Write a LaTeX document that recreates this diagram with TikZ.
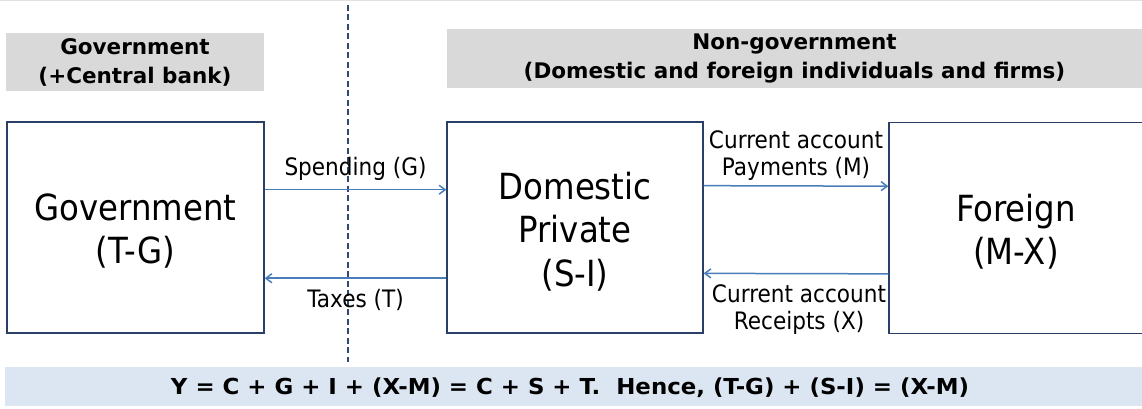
\documentclass[tikz,border=0pt]{standalone}
\usepackage{fontspec}
\setmainfont{DejaVu Sans}
\newfontfamily\tah[FakeStretch=0.9]{DejaVu Sans}
\newfontfamily\tahb{DejaVu Sans Bold}
\newfontfamily\eqf[FakeStretch=1.04]{DejaVu Sans Bold}
\usetikzlibrary{arrows.meta,calc}
\definecolor{boxline}{HTML}{2A3F66}
\definecolor{flowc}{HTML}{4A7EBB}
\definecolor{hdrfill}{HTML}{D9D9D9}
\definecolor{eqfill}{HTML}{DCE6F2}
\definecolor{dashc}{HTML}{2E4A70}
\tikzset{
  hdr/.style={fill=hdrfill, inner sep=0pt, align=center, font=\tahb\fontsize{21.5}{29}\selectfont},
  sector/.style={draw=boxline, line width=1.3pt, fill=white, inner sep=0pt, minimum height=211pt},
  bigtxt/.style={inner sep=0pt, align=center, font=\tah\fontsize{36}{43.5}\selectfont},
  flow/.style={draw=flowc, line width=1.5pt, -{Straight Barb[length=6pt,width=9pt]}},
  lbl/.style={inner sep=0pt, align=center, font=\tah\fontsize{24}{27.5}\selectfont},
}
\begin{document}
\begin{tikzpicture}[x=1pt,y=-1pt]
\useasboundingbox (0,0) rectangle (1142,409);
\clip (0,0) rectangle (1142,409);
\fill[white] (0,0) rectangle (1142,409);
\draw[color=black!12, line width=1.5pt] (0,0.75) -- (1142,0.75);
% headers
\node[hdr, minimum width=258pt, minimum height=58pt] (hg) at (135,62) {Government\\(+Central bank)};
\node[hdr, minimum width=695pt, minimum height=59pt] (hn) at (794.5,58.5) {Non-government\\(Domestic and foreign individuals and firms)};
% dashed divider
\draw[dashc, line width=2pt, dash pattern=on 6pt off 3.5pt] (348,5) -- (348,362);
% sectors
\node[sector, minimum width=257pt] (gov) at (135.5,227.5) {};
\node[sector, minimum width=256pt] (dom) at (575,227.5) {};
\node[sector, minimum width=254pt] (for) at (1016,228) {};
\node[bigtxt] (govt) at ($(gov.center)+(0,3.5)$) {Government\\(T-G)};
\node[bigtxt] (domt) at ($(dom.center)+(0,4)$) {Domestic\\Private\\(S-I)};
\node[bigtxt] (fort) at ($(for.center)+(0,3.5)$) {Foreign\\(M-X)};
% flows
\draw[flow] ($(gov.north east)!0.322!(gov.south east)$) -- ($(dom.north west)!0.322!(dom.south west)$) coordinate[pos=0.5] (sp);
\draw[flow] ($(dom.north west)!0.739!(dom.south west)$) -- ($(gov.north east)!0.739!(gov.south east)$) coordinate[pos=0.5] (tx);
\draw[flow] ($(dom.north east)!0.303!(dom.south east)$) -- ($(for.north west)!0.303!(for.south west)$) coordinate[pos=0.5] (pm);
\draw[flow] ($(for.north west)!0.716!(for.south west)$) -- ($(dom.north east)!0.716!(dom.south east)$) coordinate[pos=0.5] (rc);
\node[lbl] (spl) at ($(sp)+(0,-21)$) {Spending (G)};
\node[lbl] (txl) at ($(tx)+(0,22)$) {Taxes (T)};
\node[lbl] (pml) at ($(pm)+(0,-30.5)$) {Current account\\Payments (M)};
\node[lbl] (rcl) at ($(rc)+(3,36)$) {Current account\\Receipts (X)};
% equation band
\node[fill=eqfill, minimum width=1137pt, minimum height=39pt, inner sep=0pt] (eqb) at (573.5,386.5) {};
\node[inner sep=0pt, font=\eqf\fontsize{22}{25}\selectfont] (eq) at (570,388) {Y = C + G + I + (X-M) = C + S + T.\ \ Hence, (T-G) + (S-I) = (X-M)};
\end{tikzpicture}
\end{document}
